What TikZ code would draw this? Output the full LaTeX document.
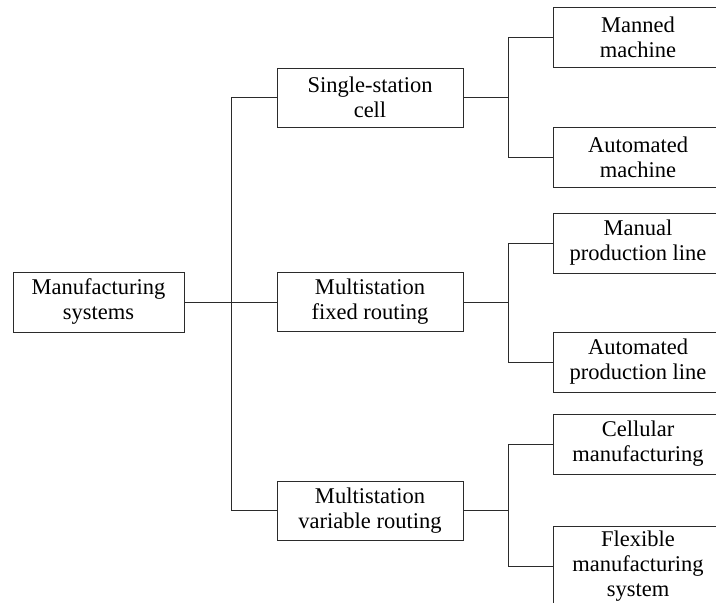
\documentclass[tikz,border=0pt]{standalone}
\usepackage{fontspec}
\setmainfont{Liberation Serif}
\usepackage{xcolor}
\usetikzlibrary{positioning,calc}
\definecolor{ink}{HTML}{2B2B2B}
\tikzset{
  treebox/.style={draw=ink,fill=white,line width=0.9pt,
                  align=center,inner sep=0pt,
                  font=\fontsize{22.5}{25}\selectfont},
  rootbox/.style={treebox,minimum width=171pt,minimum height=60pt},
  midbox/.style={treebox,minimum width=186pt,minimum height=59pt},
  leafbox/.style={treebox,minimum width=170pt,minimum height=60pt},
  link/.style={draw=ink,line width=0.9pt}
}

\begin{document}
\begin{tikzpicture}[x=1pt,y=1pt]
  \useasboundingbox (0,0) rectangle (716,603);
  \clip (0,0) rectangle (716,603);
  % level 0 and level 1
  \node[rootbox] (sys) at (98.5,301) {Manufacturing\\systems};
  \node[midbox] (cell) at (370,505.5) {Single-station\\cell};
  \node[midbox] (fixed) at (370,301) {Multistation\\fixed routing};
  \node[midbox] (var) at (370,92.5) {Multistation\\variable routing};
  % level 2
  \node[leafbox] (manned) at (638,565.5) {Manned\\machine};
  \node[leafbox] (automach) at (638,445.5) {Automated\\machine};
  \node[leafbox] (manual) at (638,360) {Manual\\production line};
  \node[leafbox] (autoline) at (638,241) {Automated\\production line};
  \node[leafbox] (cellular) at (638,159) {Cellular\\manufacturing};
  \node[leafbox,minimum height=80pt] (fms) at (638,37) {Flexible\\manufacturing\\system};
  % junction points
  \coordinate (trunk) at ($(sys.east)+(46.5,0)$);
  \coordinate (jcell) at ($(cell.east)+(45,0)$);
  \coordinate (jfixed) at ($(fixed.east)+(45,0)$);
  \coordinate (jvar) at ($(var.east)+(45,0)$);
  % connectors
  \draw[link] (sys.east) -- (fixed.west);
  \draw[link] (cell.west) -| (trunk) |- (var.west);
  \draw[link] (cell.east) -- (jcell);
  \draw[link] (manned.west) -| (jcell) |- (automach.west);
  \draw[link] (fixed.east) -- (jfixed);
  \draw[link] (manual.west) -| (jfixed) |- (autoline.west);
  \draw[link] (var.east) -- (jvar);
  \draw[link] (cellular.west) -| (jvar) |- (fms.west);
\end{tikzpicture}
\end{document}
